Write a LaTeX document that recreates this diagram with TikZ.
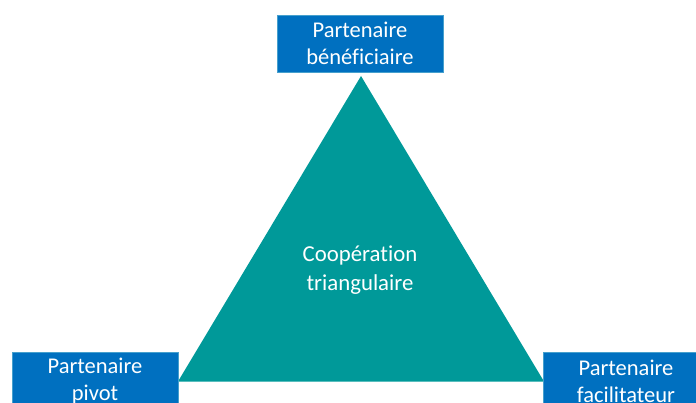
\documentclass[tikz,border=0pt]{standalone}
\usepackage{fontspec}
\setmainfont{Carlito}[Ligatures={NoCommon}]
\definecolor{boxblue}{RGB}{0,112,192}
\definecolor{boxedge}{RGB}{70,160,205}
\definecolor{teal}{RGB}{0,153,153}
\begin{document}
\begin{tikzpicture}[x=1pt,y=-1pt,
  partner/.style={draw=boxedge, line width=0.8pt, fill=boxblue, text=white,
    minimum width=166pt, minimum height=57pt, inner sep=0pt, align=center,
    font=\fontsize{22.5}{27}\selectfont},
  centertext/.style={text=white, align=center, font=\fontsize{22.8}{29}\selectfont}]
\useasboundingbox (0,0) rectangle (696,403);
\coordinate (apex) at (361,76);
\coordinate (bl) at (178,381.5);
\coordinate (br) at (544,381.5);
\fill[teal] (apex) -- (bl) -- (br) -- cycle;
\node[centertext] (coop) at (360,270) {Coopération\\triangulaire};
\node[partner] (benef) at (360,43.5) {Partenaire\\bénéficiaire};
\node[partner] (pivot) at (95,381) {Partenaire\\pivot};
\node[partner] (facil) at (626,381) {Partenaire\\facilitateur};
\end{tikzpicture}
\end{document}
